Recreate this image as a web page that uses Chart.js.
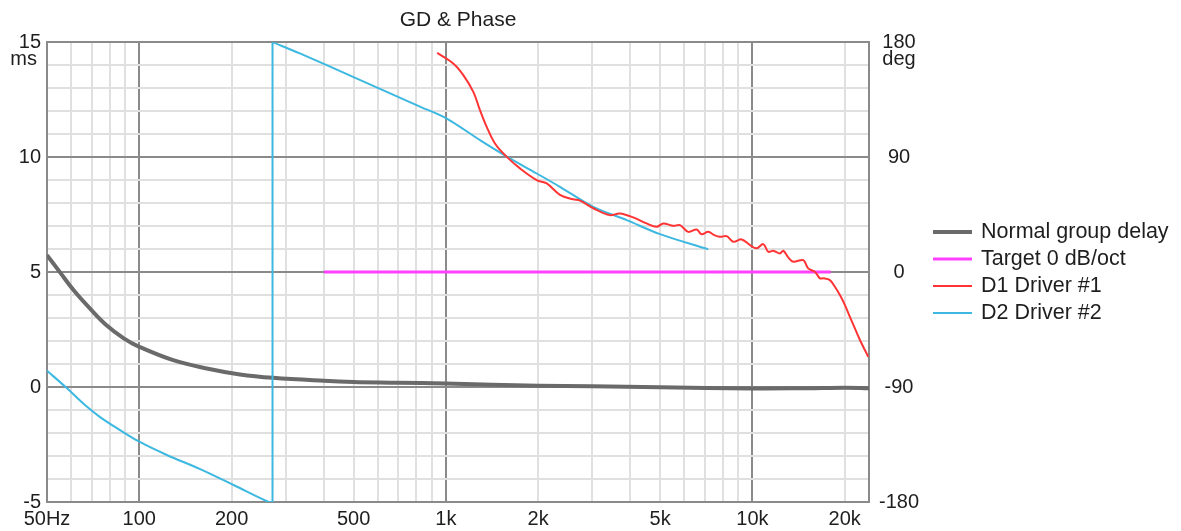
<!DOCTYPE html>
<html>
<head>
<meta charset="utf-8">
<title>GD &amp; Phase</title>
<script src="https://cdn.jsdelivr.net/npm/chart.js@4.4.1/dist/chart.umd.min.js"></script>
<style>
  body { margin: 0; background: #fff; }
  canvas { display: block; }
</style>
</head>
<body>
<canvas id="gd-chart" width="1181" height="531"></canvas>
<script>
    const gdCanvas = document.getElementById('gd-chart');

    // x axis: frequencies (Hz) for grid lines and the ones that get a label
    const xGridFreqs = [50, 60, 70, 80, 90, 100, 200, 300, 400, 500, 600, 700, 800, 900,
        1000, 2000, 3000, 4000, 5000, 6000, 7000, 8000, 9000, 10000, 20000];
    const xLabelFreqs = [50, 100, 200, 500, 1000, 2000, 5000, 10000, 20000];
    const xLabels = ['50Hz', '100', '200', '500', '1k', '2k', '5k', '10k', '20k'];
    const majorFreqs = [100, 1000, 10000];

    // normal group delay, ms (left axis)
    const gdFreq = [50, 55, 61, 69, 78, 89, 100, 129, 166, 213, 273, 400, 500, 700, 1000,
        2000, 3000, 5000, 10000, 15000, 20000, 24000];
    const gdMs = [5.74, 5.01, 4.22, 3.42, 2.70, 2.12, 1.75, 1.17, 0.81, 0.55, 0.40, 0.27, 0.22, 0.19, 0.15,
        0.06, 0.03, -0.01, -0.06, -0.05, -0.03, -0.05];

    // target phase, deg (right axis)
    const targetFreq = [400, 18000];
    const targetDeg = [0, 0];

    // D1 driver #1 phase, deg
    const d1Freq = [937, 1057, 1140, 1229, 1292, 1359, 1446, 1571, 1745, 1979, 2133, 2356, 2600, 2738,
        3026, 3427, 3695, 4085, 4516, 4870, 5119, 5518, 5802, 6176, 6574, 6823, 7178, 7500, 7834, 8237,
        8658, 9222, 9821, 10322, 10850, 11262, 11693, 12294, 12606, 13085, 13590, 14650, 15200, 15990,
        16600, 17020, 17890, 18580, 19290, 20030, 20790, 21590, 22420, 23860];
    const d1Deg = [171.6, 163.3, 154.2, 141.1, 126.8, 113.7, 100.7, 90.8, 81.2, 72.0, 69.4, 60.5, 57.0, 56.0,
        50.0, 44.6, 45.9, 42.8, 38.1, 35.5, 38.1, 36.2, 36.8, 31.5, 33.4, 29.7, 31.5, 29.0, 27.6, 28.2,
        23.7, 25.6, 21.1, 18.6, 21.9, 15.9, 16.7, 14.6, 16.7, 11.5, 8.1, 9.4, 2.9, 0.2,
        -4.9, -4.9, -6.3, -11.5, -18.0, -25.8, -35.0, -44.1, -53.2, -66.3];

    // D2 driver #2 phase, deg. The wrap at 272 Hz is doubled up so the
    // spline draws a straight vertical jump instead of a bow.
    const d2Freq = [50, 58, 66.5, 74.5, 86.5, 100, 123, 158, 203, 263, 272, 272, 272, 272,
        334, 500, 823, 1000, 1300, 1571, 1979, 2355, 3026, 3890, 4995, 7178];
    const d2Deg = [-77.2, -90.8, -104.1, -113.5, -123.7, -132.8, -143.2, -154.2, -166.7, -179.8, -180, -180, 180, 180,
        171.2, 152.7, 129.6, 120.6, 102.9, 90.8, 77.2, 66.8, 51.1, 40.7, 29.7, 17.8];

    const textColor = '#1e1e1e';
    const darkGrid = '#8a8a8a';
    const lightGrid = '#e0e0e0';
    const uiFont = 'Liberation Sans, Arial, sans-serif';

    const toPoints = (xs, ys) => xs.map((x, i) => ({ x: x, y: ys[i] }));

    // unit captions under the top ticks + legend to the right of the plot
    const extrasPlugin = {
        id: 'gdExtras',
        afterDraw(chart) {
            const { ctx, chartArea, scales } = chart;
            ctx.save();
            ctx.fillStyle = textColor;
            ctx.textBaseline = 'middle';
            ctx.font = '20px ' + uiFont;
            const unitY = scales.y.getPixelForValue(15) + 17;
            ctx.textAlign = 'right';
            ctx.fillText('ms', scales.y.right - 10, unitY);
            ctx.textAlign = 'center';
            ctx.fillText('deg', scales.y2.left + 30, unitY);

            ctx.font = '21.5px ' + uiFont;
            ctx.textAlign = 'left';
            const rowH = 27;
            const sets = chart.data.datasets;
            const top = (chartArea.top + chartArea.bottom) / 2 - rowH * (sets.length - 1) / 2;
            const x0 = chartArea.right + 64;
            sets.forEach((ds, i) => {
                const y = Math.round(top + i * rowH);
                ctx.strokeStyle = ds.borderColor;
                ctx.lineWidth = ds.borderWidth;
                ctx.beginPath();
                ctx.moveTo(x0, y);
                ctx.lineTo(x0 + 39, y);
                ctx.stroke();
                ctx.fillStyle = textColor;
                ctx.fillText(ds.label, x0 + 48, y);
            });
            ctx.restore();
        }
    };

    const gdChart = new Chart(gdCanvas, {
        type: 'line',
        data: {
            datasets: [{
                label: 'Normal group delay',
                data: toPoints(gdFreq, gdMs),
                yAxisID: 'y',
                borderColor: '#6a6a6a',
                borderWidth: 4,
                tension: 0.4,
                order: 4
            }, {
                label: 'Target 0 dB/oct',
                data: toPoints(targetFreq, targetDeg),
                yAxisID: 'y2',
                borderColor: '#ff40ff',
                borderWidth: 3,
                order: 3
            }, {
                label: 'D1 Driver #1',
                data: toPoints(d1Freq, d1Deg),
                yAxisID: 'y2',
                borderColor: '#ff3535',
                borderWidth: 2,
                tension: 0.35,
                order: 1
            }, {
                label: 'D2 Driver #2',
                data: toPoints(d2Freq, d2Deg),
                yAxisID: 'y2',
                borderColor: '#3db8e0',
                borderWidth: 2,
                tension: 0.35,
                order: 2
            }]
        },
        options: {
            responsive: false,
            animation: false,
            elements: { point: { radius: 0 } },
            layout: { padding: { left: 0, right: 247, top: 0, bottom: 0 } },
            plugins: {
                legend: { display: false },
                tooltip: { enabled: false },
                title: {
                    display: true,
                    text: 'GD & Phase',
                    fullSize: false,
                    color: textColor,
                    font: { family: uiFont, size: 21, weight: 'normal' },
                    padding: { top: 8, bottom: 9 }
                }
            },
            scales: {
                x: {
                    type: 'logarithmic',
                    min: 50,
                    max: 24000,
                    afterBuildTicks: (axis) => {
                        axis.ticks = xGridFreqs.map(v => ({ value: v }));
                    },
                    afterFit: (axis) => { axis.height = 29; },
                    ticks: {
                        autoSkip: false,
                        maxRotation: 0,
                        padding: 5,
                        color: textColor,
                        font: { family: uiFont, size: 20 },
                        callback: (v) => {
                            const i = xLabelFreqs.indexOf(v);
                            return i >= 0 ? xLabels[i] : '';
                        }
                    },
                    grid: {
                        drawTicks: false,
                        lineWidth: 2,
                        color: (c) => majorFreqs.includes(c.tick.value) ? darkGrid : lightGrid
                    },
                    border: { color: darkGrid, width: 2 }
                },
                y: {
                    position: 'left',
                    min: -5,
                    max: 15,
                    afterFit: (axis) => { axis.width = 47; },
                    ticks: {
                        stepSize: 1,
                        autoSkip: false,
                        padding: 6,
                        color: textColor,
                        font: { family: uiFont, size: 20 },
                        callback: (v) => v % 5 === 0 ? v : ''
                    },
                    grid: {
                        drawTicks: false,
                        lineWidth: 2,
                        color: (c) => c.tick.value % 5 === 0 ? darkGrid : lightGrid
                    },
                    border: { color: darkGrid, width: 2 }
                },
                y2: {
                    position: 'right',
                    min: -180,
                    max: 180,
                    afterFit: (axis) => { axis.width = 65; },
                    ticks: {
                        stepSize: 90,
                        padding: 10,
                        crossAlign: 'center',
                        color: textColor,
                        font: { family: uiFont, size: 20 }
                    },
                    grid: { drawOnChartArea: false, drawTicks: false },
                    border: { color: darkGrid, width: 2 }
                }
            }
        },
        plugins: [extrasPlugin]
    });
</script>
</body>
</html>
